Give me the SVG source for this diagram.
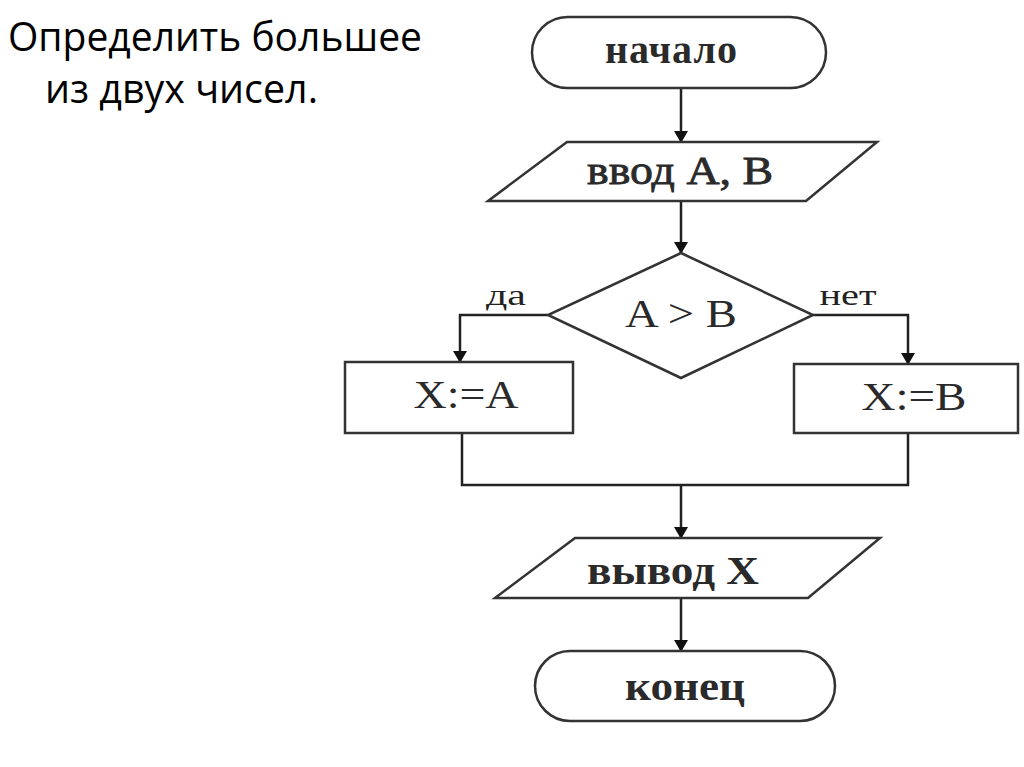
<svg xmlns="http://www.w3.org/2000/svg" width="1024" height="767" viewBox="0 0 1024 767">
<defs>
<marker id="ah" markerWidth="12" markerHeight="14" refX="11" refY="7" orient="auto" markerUnits="userSpaceOnUse" viewBox="0 0 12 14">
<path d="M0,0 L12,7 L0,14 Z" fill="#111"/>
</marker>
<style>
.shape{fill:#fff;stroke:#333;stroke-width:2.5}
.line{fill:none;stroke:#222;stroke-width:2.5}
.t{font-family:"Liberation Serif","Times New Roman",serif;font-size:40px;font-weight:bold;fill:#2a2a2a;text-anchor:middle}
.lbl{font-family:"Liberation Serif","Times New Roman",serif;font-size:30px;fill:#222;text-anchor:middle}
.title{font-family:"Open Sans","Noto Sans","Liberation Sans",sans-serif;font-size:40px;fill:#000}
</style>
</defs>
<rect width="1024" height="767" fill="#fff"/>
<g id="title">
<text class="title" x="8" y="51" textLength="414" lengthAdjust="spacingAndGlyphs">Определить большее</text>
<text class="title" x="45" y="103" textLength="273" lengthAdjust="spacingAndGlyphs">из двух чисел.</text>
</g>
<g id="connectors">
<line class="line" x1="681" y1="88" x2="681" y2="142" marker-end="url(#ah)"/>
<line class="line" x1="681" y1="201" x2="681" y2="253" marker-end="url(#ah)"/>
<polyline class="line" points="548,315 460,315 460,362" marker-end="url(#ah)"/>
<polyline class="line" points="813,315 908,315 908,364" marker-end="url(#ah)"/>
<polyline class="line" points="462,433 462,485 908,485 908,433"/>
<line class="line" x1="681" y1="485" x2="681" y2="538" marker-end="url(#ah)"/>
<line class="line" x1="681" y1="598" x2="681" y2="651" marker-end="url(#ah)"/>
<text class="lbl" x="506" y="305" textLength="40" lengthAdjust="spacingAndGlyphs">да</text>
<text class="lbl" x="848" y="305" textLength="57" lengthAdjust="spacingAndGlyphs">нет</text>
</g>
<g id="start">
<rect class="shape" x="532" y="17" width="294" height="71" rx="35.5"/>
<text class="t" x="671" y="63" textLength="132">начало</text>
</g>
<g id="input">
<polygon class="shape" points="567,142 877,142 806,201 488,201"/>
<text class="t" x="680" y="184" textLength="186" lengthAdjust="spacingAndGlyphs" style="font-weight:normal;stroke:#2a2a2a;stroke-width:0.8">ввод А, В</text>
</g>
<g id="decision">
<polygon class="shape" points="681,253 813,315 681,378 548,315"/>
<text class="t" x="681" y="327" textLength="112" lengthAdjust="spacingAndGlyphs" style="font-weight:normal">A &gt; B</text>
</g>
<g id="assignA">
<rect class="shape" x="345" y="362" width="228" height="71"/>
<text class="t" x="466" y="408" textLength="105" lengthAdjust="spacingAndGlyphs" style="font-weight:normal">X:=A</text>
</g>
<g id="assignB">
<rect class="shape" x="794" y="364" width="224" height="69"/>
<text class="t" x="914" y="410" textLength="105" lengthAdjust="spacingAndGlyphs" style="font-weight:normal">X:=B</text>
</g>
<g id="output">
<polygon class="shape" points="575,538 880,538 808,598 495,598"/>
<text class="t" x="673" y="584" textLength="172" lengthAdjust="spacingAndGlyphs">вывод X</text>
</g>
<g id="end">
<rect class="shape" x="535" y="651" width="300" height="70" rx="35"/>
<text class="t" x="685" y="700" textLength="120" lengthAdjust="spacingAndGlyphs">конец</text>
</g>
</svg>
